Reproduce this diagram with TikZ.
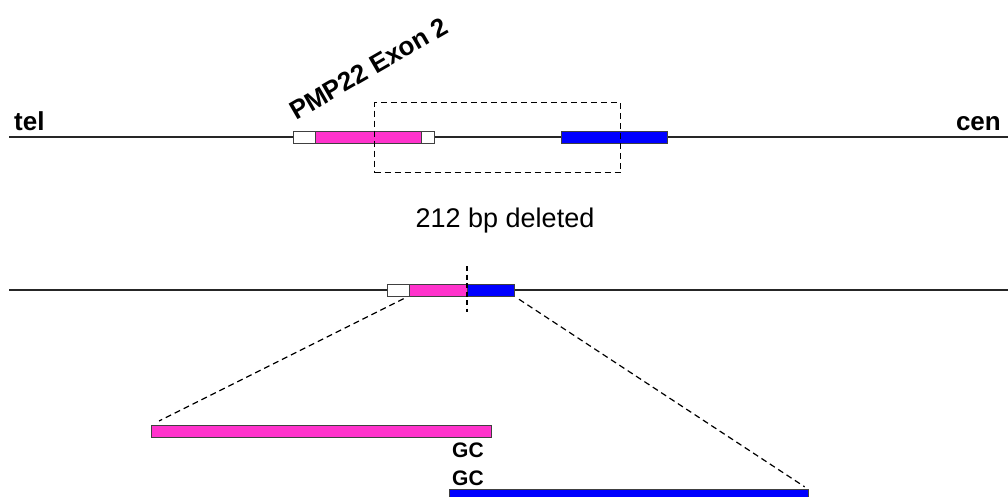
\documentclass[tikz,border=0pt]{standalone}
\usepackage{fontspec}
\setmainfont{Liberation Sans}
\begin{document}
\begin{tikzpicture}[x=1pt,y=-1pt,
  backbone/.style={line width=1.4pt,black!85},
  seg/.style={draw=black!75,line width=0.9pt,inner sep=0pt,outer sep=0pt,
    anchor=west,minimum height=12pt},
  utr/.style={seg,fill=white},
  exonpink/.style={seg,fill=exonfill},
  exonblue/.style={seg,fill=blue},
  dashline/.style={line width=1.2pt,dash pattern=on 6pt off 4pt},
  lbl/.style={font=\fontsize{26}{30}\selectfont\bfseries,inner sep=0pt}
]
\definecolor{exonfill}{RGB}{255,51,204}
\useasboundingbox (0,0) rectangle (1008,497);

% ---- upper locus ----
\coordinate (telend) at (9,137);
\coordinate (cenend) at (1008,137);
\draw[backbone] (telend) -- (cenend);
\node[utr,minimum width=22pt] (u1) at (293,137) {};
\node[exonpink,minimum width=106pt] (e1) at (315,137) {};
\node[utr,minimum width=13pt] (u2) at (421,137) {};
\node[exonblue,minimum width=106pt] (b1) at (561,137) {};
\node[draw,dashline,line width=1.1pt,inner sep=0pt,minimum width=246pt,minimum height=70pt,anchor=north west] (del) at (374,102) {};

\node[lbl,anchor=base west] (tel) at (14,131) {tel};
\node[lbl,anchor=base east] (cen) at (1001,131) {cen};
\node[lbl,anchor=base west,rotate=30] (exlabel) at (296,121) {PMP22 Exon 2};
\node[font=\fontsize{27}{30}\selectfont,inner sep=0pt,anchor=base] (dellabel) at (505,227) {212 bp deleted};

% ---- rearranged locus ----
\coordinate (l2a) at (9,290);
\coordinate (l2b) at (1008,290);
\draw[backbone] (l2a) -- (l2b);
\node[utr,minimum width=22pt] (u3) at (387,290) {};
\node[exonpink,minimum width=58pt] (e2) at (409,290) {};
\node[exonblue,minimum width=47pt] (b2) at (467,290) {};
\coordinate (jtop) at (467,266);
\coordinate (jbot) at (467,312);
\draw[dashline,dash pattern=on 5pt off 3.5pt] (jtop) -- (jbot);

% ---- junction sequence ----
\node[exonpink,minimum width=340pt,anchor=north west] (e3) at (151,425) {};
\node[exonblue,minimum width=359pt,anchor=north west] (b3) at (449,489) {};
\draw[dashline,shorten <=6pt,shorten >=9pt] (e2.south west) -- (e3.north west);
\draw[dashline,shorten <=6pt,shorten >=4pt] (b2.south east) -- (b3.north east);
\node[font=\fontsize{21}{24}\selectfont\bfseries,inner sep=0pt,anchor=base west] (gc1) at (452,457) {GC};
\node[font=\fontsize{21}{24}\selectfont\bfseries,inner sep=0pt,anchor=base west] (gc2) at (452,485) {GC};
\end{tikzpicture}
\end{document}
